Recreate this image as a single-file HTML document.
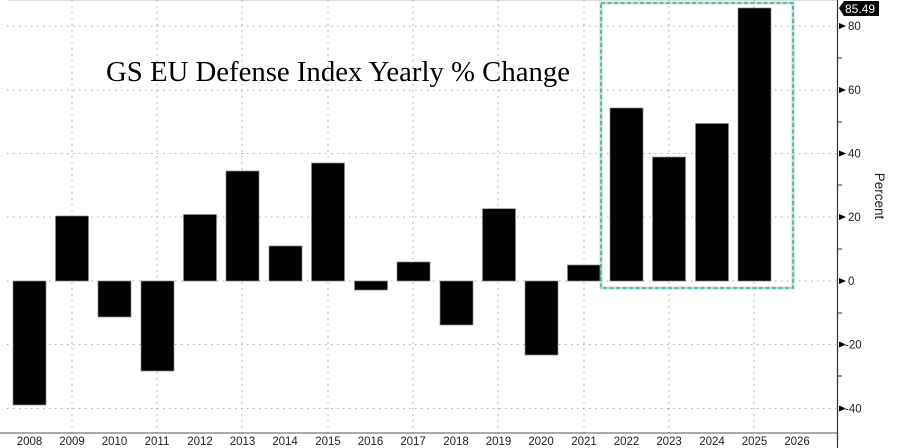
<!DOCTYPE html>
<html><head><meta charset="utf-8"><style>
html,body{margin:0;padding:0;background:#fff;}
svg{display:block;}
</style></head><body>
<svg width="900" height="448" viewBox="0 0 900 448" xmlns="http://www.w3.org/2000/svg">
<rect width="900" height="448" fill="#fff"/>
<line x1="7" y1="0.5" x2="836" y2="0.5" stroke="#ddd" stroke-width="1"/>
<g stroke="#aaa" stroke-width="1" stroke-dasharray="1.5,4.5">
<line x1="7" y1="26" x2="836" y2="26"/>
<line x1="7" y1="90" x2="836" y2="90"/>
<line x1="7" y1="153.5" x2="836" y2="153.5"/>
<line x1="7" y1="217" x2="836" y2="217"/>
<line x1="7" y1="281" x2="836" y2="281"/>
<line x1="7" y1="344.5" x2="836" y2="344.5"/>
<line x1="7" y1="408.5" x2="836" y2="408.5"/>
<line x1="72" y1="0" x2="72" y2="433"/>
<line x1="157" y1="0" x2="157" y2="433"/>
<line x1="242" y1="0" x2="242" y2="433"/>
<line x1="328" y1="0" x2="328" y2="433"/>
<line x1="413" y1="0" x2="413" y2="433"/>
<line x1="498" y1="0" x2="498" y2="433"/>
<line x1="584" y1="0" x2="584" y2="433"/>
<line x1="669" y1="0" x2="669" y2="433"/>
<line x1="754" y1="0" x2="754" y2="433"/>
</g>
<g fill="#000" stroke="#888" stroke-width="0.7">
<rect x="13" y="281" width="33" height="124"/>
<rect x="55.5" y="216" width="33" height="65"/>
<rect x="98" y="281" width="33" height="36"/>
<rect x="141" y="281" width="33" height="90"/>
<rect x="183.5" y="214.5" width="33" height="66.5"/>
<rect x="226" y="171" width="33" height="110"/>
<rect x="269" y="246" width="33" height="35"/>
<rect x="311.5" y="163" width="33" height="118"/>
<rect x="354.5" y="281" width="33" height="9"/>
<rect x="397" y="262" width="33" height="19"/>
<rect x="440" y="281" width="33" height="44"/>
<rect x="482.5" y="208.7" width="33" height="72.3"/>
<rect x="525" y="281" width="33" height="74"/>
<rect x="567.5" y="265" width="33" height="16"/>
<rect x="610" y="108" width="33" height="173"/>
<rect x="652.5" y="157" width="33" height="124"/>
<rect x="695.5" y="123.5" width="33" height="157.5"/>
<rect x="738" y="8" width="33" height="273"/>
</g>
<rect x="601" y="3" width="192" height="285" fill="none" stroke="#bbb" stroke-width="3" opacity="0.6"/>
<rect x="601" y="3" width="192" height="285" fill="none" stroke="#1cc0a8" stroke-width="1.6" stroke-dasharray="4,2.5"/>
<text x="106" y="81" font-family="Liberation Serif, serif" font-size="28" textLength="464" lengthAdjust="spacingAndGlyphs" fill="#000">GS EU Defense Index Yearly % Change</text>
<line x1="837.5" y1="0" x2="837.5" y2="448" stroke="#333" stroke-width="1.2"/>
<line x1="0" y1="433" x2="837" y2="433" stroke="#555" stroke-width="1"/>
<g fill="#000">
<polygon points="839,23 846,26 839,29"/>
<polygon points="839,87 846,90 839,93"/>
<polygon points="839,150.5 846,153.5 839,156.5"/>
<polygon points="839,214 846,217 839,220"/>
<polygon points="839,278 846,281 839,284"/>
<polygon points="839,341.5 846,344.5 839,347.5"/>
<polygon points="839,405.5 846,408.5 839,411.5"/>
</g>
<g stroke="#333" stroke-width="1">
<line x1="838" y1="58" x2="842" y2="58"/><line x1="838" y1="122" x2="842" y2="122"/><line x1="838" y1="185" x2="842" y2="185"/><line x1="838" y1="249" x2="842" y2="249"/><line x1="838" y1="313" x2="842" y2="313"/><line x1="838" y1="376" x2="842" y2="376"/>
</g>
<g font-family="Liberation Sans, sans-serif" font-size="11.5" fill="#222">
<text x="848" y="30">80</text><text x="848" y="94">60</text><text x="848" y="157.5">40</text><text x="848" y="221">20</text><text x="848" y="285">0</text><text x="845" y="348.5">-20</text><text x="845" y="412.5">-40</text>
</g>
<polygon points="839,8 844,1 879,1 879,16 844,16" fill="#000"/>
<text x="845" y="13" font-family="Liberation Sans, sans-serif" font-size="12" fill="#fff">85.49</text>
<text transform="translate(875,196) rotate(90)" text-anchor="middle" font-family="Liberation Sans, sans-serif" font-size="13.5" fill="#222">Percent</text>
<g font-family="Liberation Sans, sans-serif" font-size="11.5" fill="#222" text-anchor="middle">
<text x="29.5" y="445">2008</text><text x="72" y="445">2009</text><text x="114.5" y="445">2010</text><text x="157" y="445">2011</text><text x="200" y="445">2012</text><text x="242.5" y="445">2013</text><text x="285" y="445">2014</text><text x="328" y="445">2015</text><text x="370.5" y="445">2016</text><text x="413" y="445">2017</text><text x="456" y="445">2018</text><text x="498.5" y="445">2019</text><text x="541" y="445">2020</text><text x="584" y="445">2021</text><text x="626.5" y="445">2022</text><text x="669" y="445">2023</text><text x="712" y="445">2024</text><text x="754.5" y="445">2025</text><text x="797" y="445">2026</text>
</g>
</svg>
</body></html>
